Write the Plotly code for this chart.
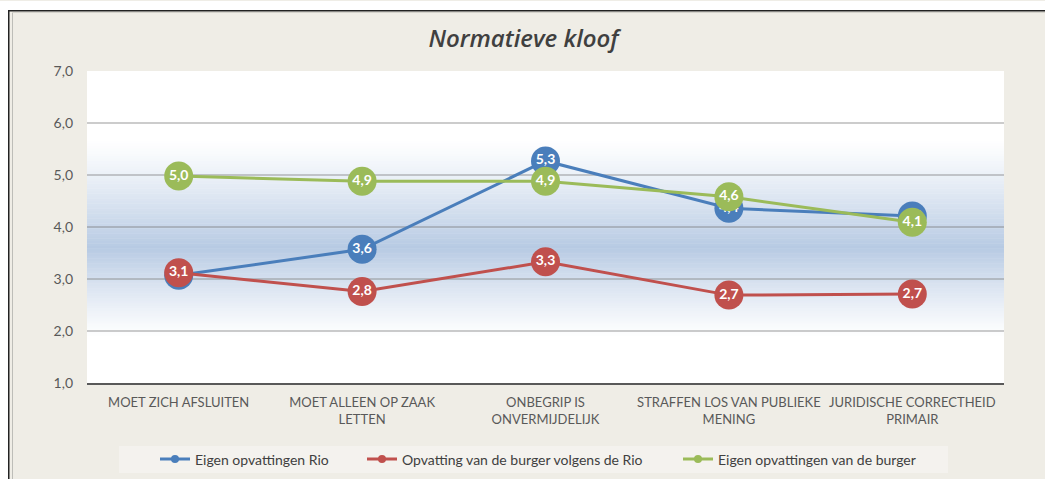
import plotly.graph_objects as go

categories = [
    "MOET ZICH AFSLUITEN",
    "MOET ALLEEN OP ZAAK<br>LETTEN",
    "ONBEGRIP IS<br>ONVERMIJDELIJK",
    "STRAFFEN LOS VAN PUBLIEKE<br>MENING",
    "JURIDISCHE CORRECTHEID<br>PRIMAIR",
]
series_names = [
    "Eigen opvattingen Rio",
    "Opvatting van de burger volgens de Rio",
    "Eigen opvattingen van de burger",
]
rio_own = [3.07, 3.57, 5.27, 4.36, 4.21]
citizen_by_rio = [3.12, 2.76, 3.33, 2.69, 2.71]
citizen_own = [4.98, 4.88, 4.88, 4.58, 4.09]
y_ticks = [1, 2, 3, 4, 5, 6, 7]

colors = ["#4A7EBB", "#C0504D", "#9BBB59"]
K = 487 / 479  # vertical capture compensation
W, H = 1045, 487
L, R = 87, 1045 - 1004
T, B = 70 * K, (479 - 382) * K
PW, PH = W - L - R, H - T - B
FONT = "Lato"


def px_x(px):
    """reference pixel x -> paper x"""
    return (px - L) / PW


def px_y(py):
    """reference pixel y -> paper y"""
    return (H - B - py * K) / PH


fig = go.Figure()
for name, vals, col in zip(series_names, [rio_own, citizen_by_rio, citizen_own], colors):
    fig.add_trace(go.Scatter(
        x=categories, y=vals, mode="lines+markers+text", name=name,
        line=dict(color=col, width=3),
        marker=dict(size=29, color=col),
        text=vals, texttemplate="%{y:.1f}", textposition="middle center",
        textfont=dict(color="white", size=14, family=FONT, weight="bold"),
        showlegend=False, cliponaxis=False,
    ))
legend_ids = ["legend", "legend2", "legend3"]
for name, col, lid in zip(series_names, colors, legend_ids):
    fig.add_trace(go.Scatter(
        x=[None], y=[None], mode="lines+markers", name=name, legend=lid,
        line=dict(color=col, width=3), marker=dict(size=8, color=col),
    ))

shapes = []
# white page margin outside the frame
shapes.append(dict(type="rect", xref="paper", yref="paper", x0=px_x(0), x1=px_x(8), y0=px_y(479), y1=px_y(0),
                   fillcolor="white", line_width=0, layer="below"))
shapes.append(dict(type="rect", xref="paper", yref="paper", x0=px_x(0), x1=px_x(1045), y0=px_y(9), y1=px_y(0),
                   fillcolor="white", line_width=0, layer="below"))
# frame lines
shapes.append(dict(type="line", xref="paper", yref="paper", x0=px_x(8.75), x1=px_x(8.75), y0=px_y(479), y1=px_y(9),
                   line=dict(color="#222222", width=1.5), layer="below"))
shapes.append(dict(type="line", xref="paper", yref="paper", x0=px_x(8), x1=px_x(1045), y0=px_y(9.75), y1=px_y(9.75),
                   line=dict(color="#222222", width=1.5), layer="below"))
shapes.append(dict(type="line", xref="paper", yref="paper", x0=px_x(12.5), x1=px_x(12.5), y0=px_y(479), y1=px_y(11),
                   line=dict(color="#BDBDB8", width=1), layer="below"))
shapes.append(dict(type="line", xref="paper", yref="paper", x0=px_x(12), x1=px_x(1045), y0=px_y(11.5), y1=px_y(11.5),
                   line=dict(color="#D5D3CC", width=1), layer="below"))
# legend box
shapes.append(dict(type="rect", xref="paper", yref="paper", x0=px_x(119), x1=px_x(948), y0=px_y(472), y1=px_y(445),
                   fillcolor="#F4F2EE", line_width=0, layer="below"))

# blue gradient band in the plot area
top_v, mid_v, bot_v = 5.7, 3.6, 1.85
dark = (183, 202, 227)
N = 80
for i in range(N):
    a = bot_v + (top_v - bot_v) * i / N
    b = bot_v + (top_v - bot_v) * (i + 1) / N
    m = (a + b) / 2
    if m >= mid_v:
        t = (top_v - m) / (top_v - mid_v)
    else:
        t = (m - bot_v) / (mid_v - bot_v)
    t = max(0.0, min(1.0, t))
    t = t ** 1.2
    c = tuple(round(255 + (d - 255) * t) for d in dark)
    shapes.append(dict(type="rect", xref="paper", yref="y", x0=0, x1=1, y0=a, y1=b + 0.01,
                       fillcolor=f"rgb{c}", line_width=0, layer="below"))

legend_font = dict(family=FONT, size=14, color="#404040")
legend_text_x = [195, 402, 718]
legends = {}
for lid, tx in zip(legend_ids, legend_text_x):
    legends[lid] = dict(orientation="h", x=px_x(tx - 40), xanchor="left", y=px_y(458.5), yanchor="middle",
                        bgcolor="rgba(0,0,0,0)", font=legend_font, borderwidth=0)

fig.update_layout(
    width=W, height=H,
    margin=dict(l=L, r=R, t=T, b=B),
    paper_bgcolor="#EFEDE6", plot_bgcolor="white",
    separators=",.",
    shapes=shapes,
    title=dict(text="Normatieve kloof", xref="container", x=523.5 / W, xanchor="center",
               yref="container", y=1 - 38 / 479, yanchor="middle",
               font=dict(family="Open Sans", size=24, color="#404040", style="italic", weight=600)),
    xaxis=dict(type="category", range=[-0.5, 4.5], showgrid=False, showline=True,
               linecolor="#595959", linewidth=2, ticks="", ticklabelstandoff=6,
               tickfont=dict(family=FONT, size=13, color="#595959"), fixedrange=True),
    yaxis=dict(range=[1, 7], tickvals=y_ticks, tickformat=".1f", showgrid=True,
               gridcolor="rgba(120,120,120,0.38)", gridwidth=1.5, zeroline=False, ticks="",
               ticklabelstandoff=13,
               tickfont=dict(family=FONT, size=14, color="#595959"), fixedrange=True),
    showlegend=True,
    **legends,
)

fig.write_html(
    "out.html",
    config={"displayModeBar": False},
    post_script="document.body.style.margin='0';document.body.style.overflow='hidden';",
)
